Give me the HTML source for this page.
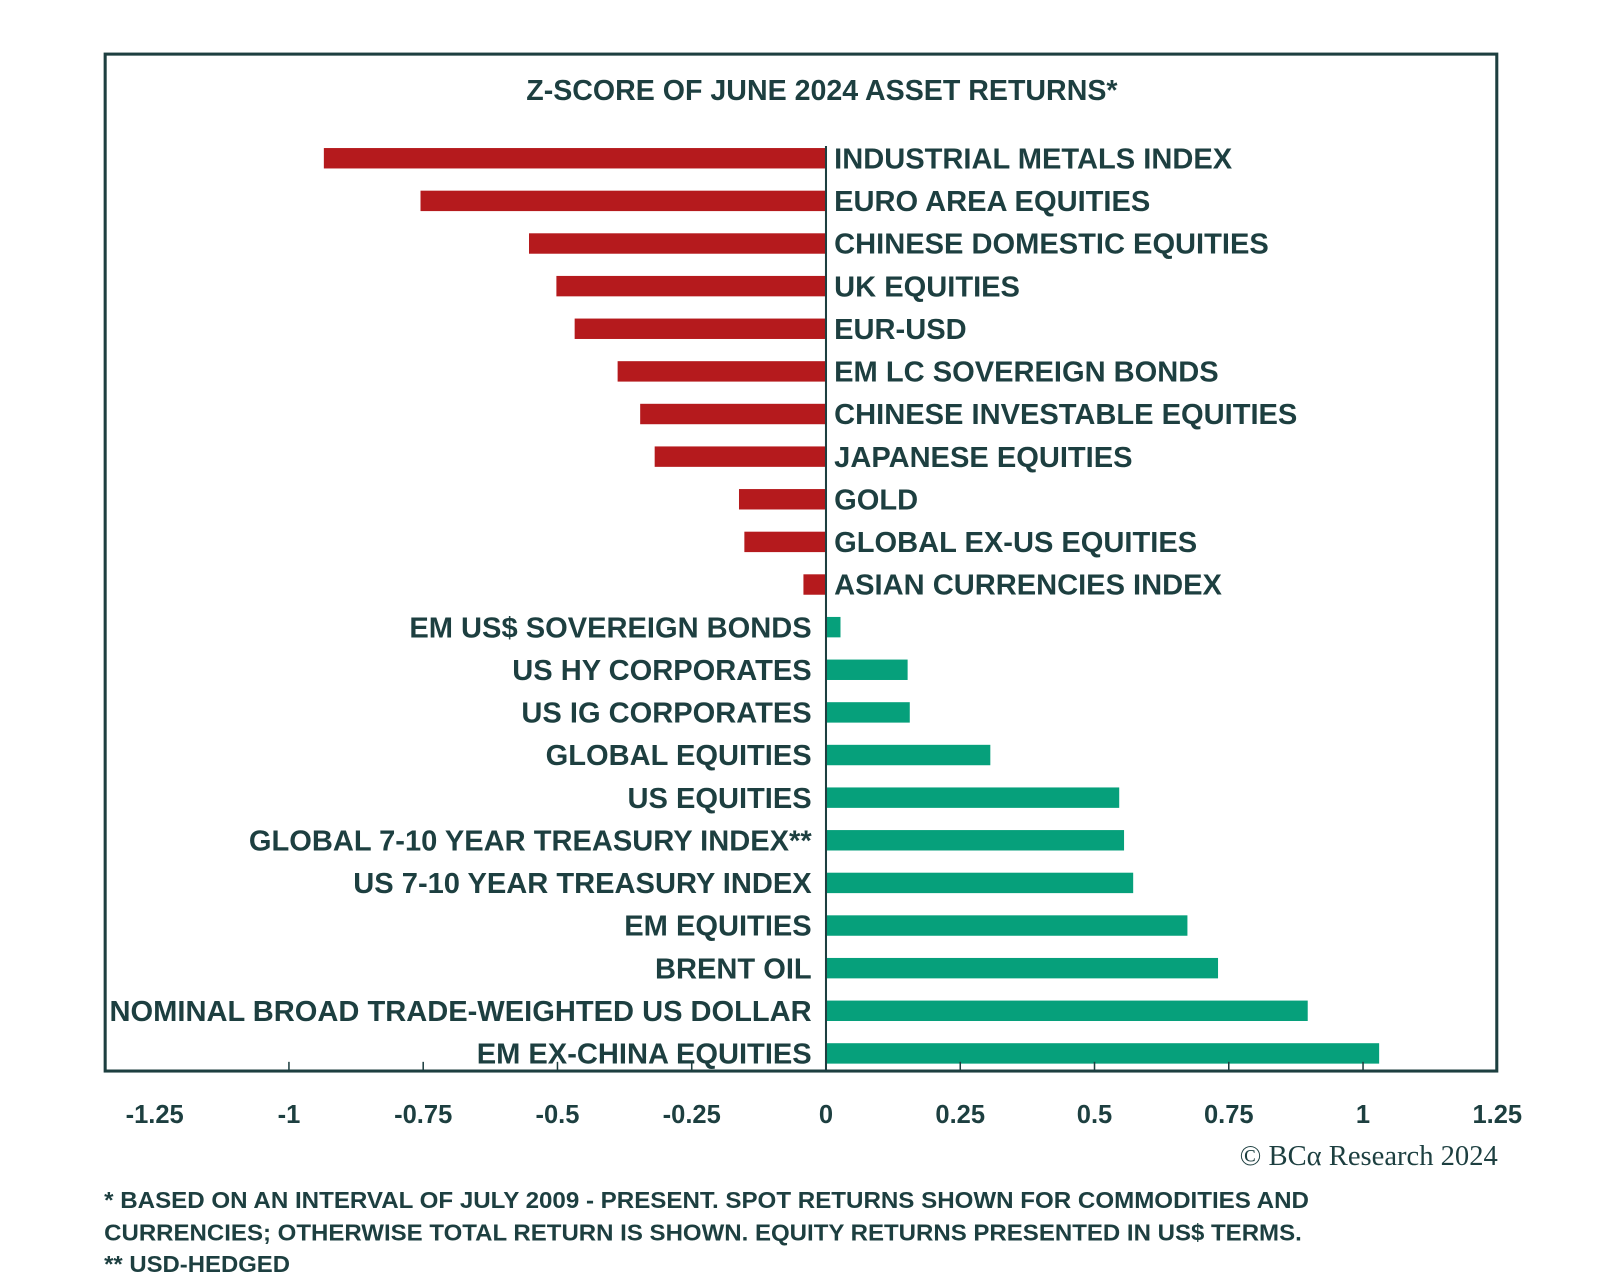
<!DOCTYPE html>
<html><head><meta charset="utf-8"><style>
html,body{margin:0;padding:0;background:#fff;}
svg{display:block;font-family:"Liberation Sans",sans-serif;}
</style></head><body>
<svg id="chart" width="1600" height="1282" viewBox="0 0 1600 1282" xmlns="http://www.w3.org/2000/svg">
<g transform="scale(1.021)">
<rect x="103" y="53" width="1363" height="996" fill="none" stroke="#1d3f40" stroke-width="3"/>
<text x="805" y="98" text-anchor="middle" font-size="28" font-weight="bold" fill="#1d3f40">Z-SCORE OF JUNE 2024 ASSET RETURNS*</text>
<g id="bars"></g>
<g id="axis"></g>
<text x="1467" y="1141" text-anchor="end" font-family="Liberation Serif, serif" font-size="28" fill="#1d3f40">© BCα Research 2024</text>
<text x="102" y="1183" font-size="23" font-weight="bold" fill="#1d3f40" textLength="1180" lengthAdjust="spacingAndGlyphs">* BASED ON AN INTERVAL OF JULY 2009 - PRESENT. SPOT RETURNS SHOWN FOR COMMODITIES AND</text>
<text x="102" y="1215" font-size="23" font-weight="bold" fill="#1d3f40" textLength="1173" lengthAdjust="spacingAndGlyphs">CURRENCIES; OTHERWISE TOTAL RETURN IS SHOWN. EQUITY RETURNS PRESENTED IN US$ TERMS.</text>
<text x="102" y="1246" font-size="23" font-weight="bold" fill="#1d3f40" textLength="182" lengthAdjust="spacingAndGlyphs">** USD-HEDGED</text>
</g>
</svg>
<script>
const categories = ["INDUSTRIAL METALS INDEX","EURO AREA EQUITIES","CHINESE DOMESTIC EQUITIES","UK EQUITIES","EUR-USD","EM LC SOVEREIGN BONDS","CHINESE INVESTABLE EQUITIES","JAPANESE EQUITIES","GOLD","GLOBAL EX-US EQUITIES","ASIAN CURRENCIES INDEX","EM US$ SOVEREIGN BONDS","US HY CORPORATES","US IG CORPORATES","GLOBAL EQUITIES","US EQUITIES","GLOBAL 7-10 YEAR TREASURY INDEX**","US 7-10 YEAR TREASURY INDEX","EM EQUITIES","BRENT OIL","NOMINAL BROAD TRADE-WEIGHTED US DOLLAR","EM EX-CHINA EQUITIES"];
const values = [-0.935,-0.755,-0.553,-0.502,-0.468,-0.388,-0.346,-0.319,-0.162,-0.152,-0.042,0.027,0.152,0.156,0.306,0.546,0.555,0.572,0.673,0.730,0.897,1.030];
const tickValues = [-1.25,-1,-0.75,-0.5,-0.25,0,0.25,0.5,0.75,1,1.25];
const tickLabels = ["-1.25","-1","-0.75","-0.5","-0.25","0","0.25","0.5","0.75","1","1.25"];

const NS="http://www.w3.org/2000/svg";
const x = v => 809 + v*526;
const yC = i => 155 + i*41.75;
const barsG=document.getElementById('bars'), axisG=document.getElementById('axis');
function mk(tag,attrs,parent){const e=document.createElementNS(NS,tag);for(const k in attrs)e.setAttribute(k,attrs[k]);parent.appendChild(e);return e;}
values.forEach((v,i)=>{
  const r=mk('rect',{x:Math.min(x(0),x(v)),y:yC(i)-10,width:Math.abs(x(v)-x(0)),height:20,fill:v<0?'#b51a1d':'#06a07b'},barsG);
  
  
  const t=mk('text',{x:v<0?x(0)+8:x(0)-14,y:yC(i)+10,'text-anchor':v<0?'start':'end','font-size':28.5,'font-weight':'bold',fill:'#1d3f40'},barsG);
  t.textContent=categories[i];
  
  
});
const zl=mk('line',{x1:x(0),x2:x(0),y1:143,y2:1049,stroke:'#1d3f40','stroke-width':2},axisG);


tickValues.forEach((v,i)=>{
  if(i>0&&i<tickValues.length-1){
    const l=mk('line',{x1:x(v),x2:x(v),y1:1040,y2:1049,stroke:'#1d3f40','stroke-width':1.5},axisG);
    
    
  }
  const t=mk('text',{x:x(v),y:1100,'text-anchor':'middle','font-size':25,'font-weight':'bold',fill:'#1d3f40'},axisG);
  t.textContent=tickLabels[i];
  
  
});
</script>
</body></html>
